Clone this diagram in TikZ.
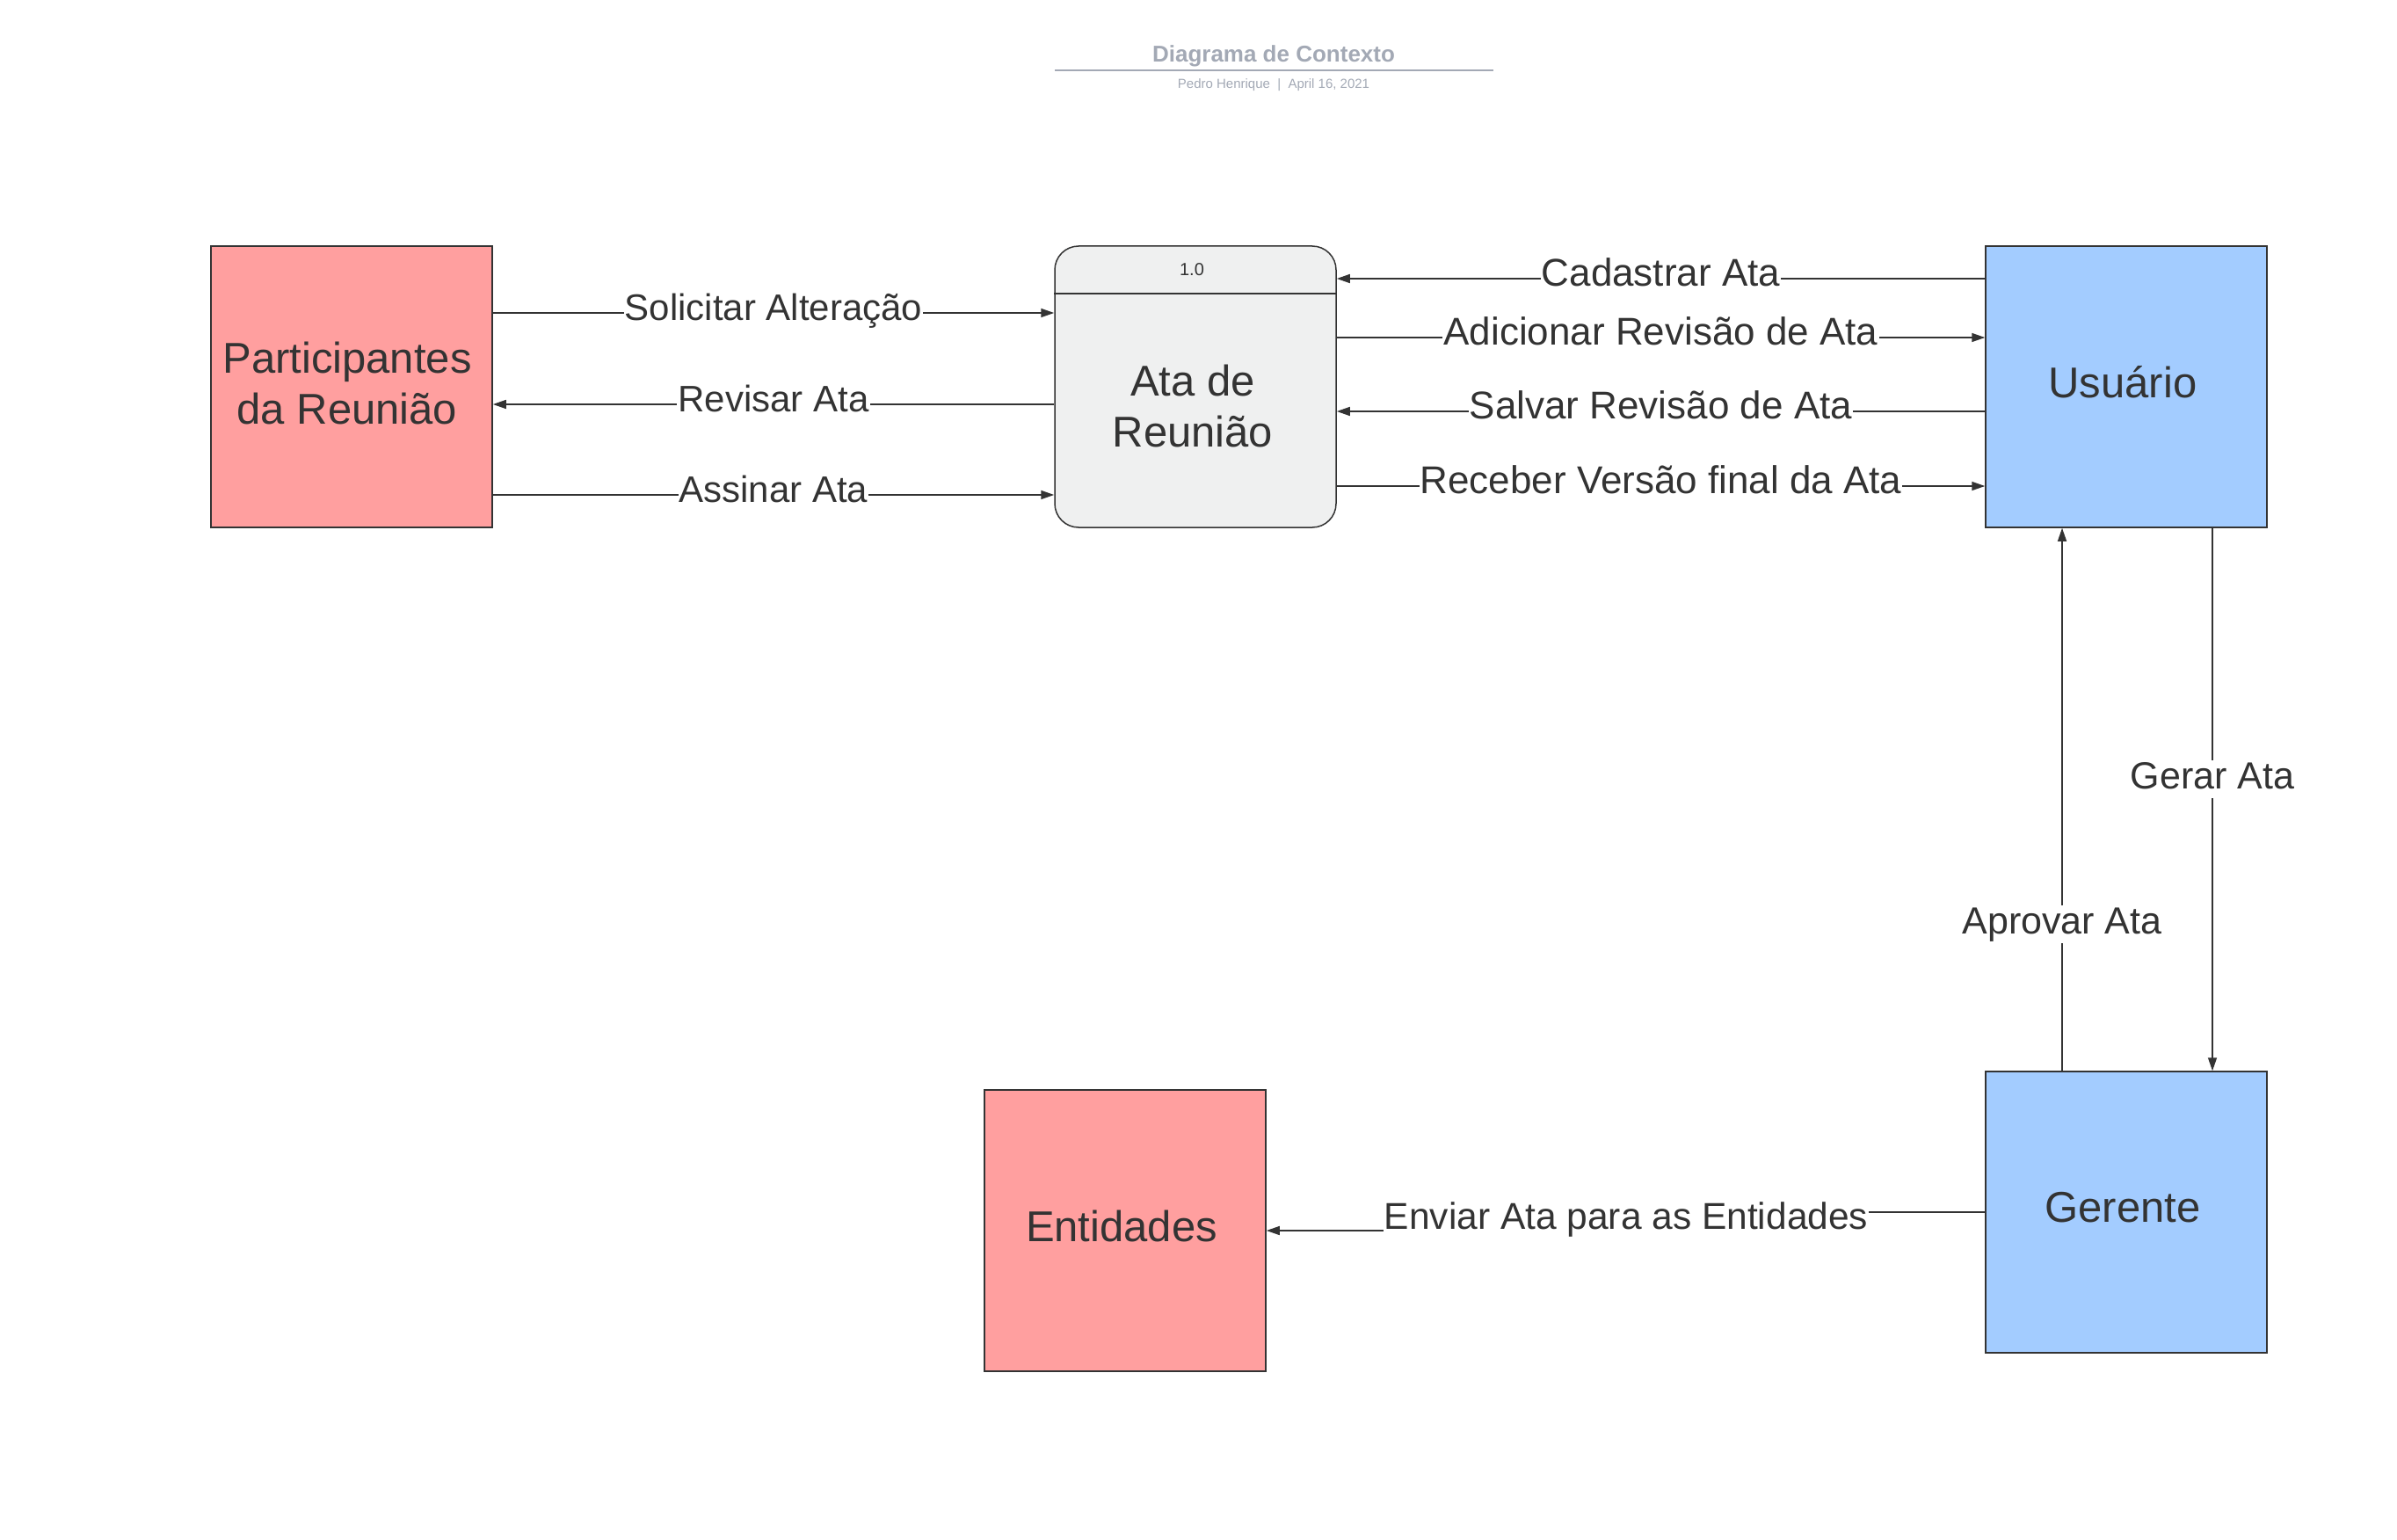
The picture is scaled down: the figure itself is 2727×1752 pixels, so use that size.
\documentclass[tikz,border=0pt]{standalone}
\usepackage{fontspec}
\setmainfont{Liberation Sans}
\usetikzlibrary{arrows.meta,calc}
\definecolor{ink}{HTML}{333333}
\definecolor{redfill}{HTML}{FF9F9F}
\definecolor{bluefill}{HTML}{A3CCFF}
\definecolor{procfill}{HTML}{EFF0F0}
\definecolor{titlegray}{HTML}{A3A9B5}
\begin{document}
\begin{tikzpicture}[x=1pt,y=-1pt,
  entity/.style={draw=ink, line width=1.5pt, minimum width=320pt, minimum height=320pt,
    inner sep=0pt},
  bigtext/.style={text=ink, align=center, inner sep=0pt, font=\fontsize{49}{58}\selectfont},
  flow/.style={draw=ink, line width=1.5pt, -{Triangle[length=15pt,width=10pt]}},
  lbl/.style={fill=white, text=ink, inner sep=1pt, text height=32pt, text depth=9pt,
    font=\fontsize{43}{50}\selectfont},
  lblL/.style={lbl, font=\fontsize{42}{50}\selectfont},
  lblR/.style={lbl, font=\fontsize{44}{50}\selectfont}
]
\useasboundingbox (0,0) rectangle (2727,1752);

% title
\node[font=\bfseries\fontsize{26}{30}\selectfont, text=titlegray] (title) at (1449,64) {Diagrama de Contexto};
\coordinate (tl) at (1200,80);
\coordinate (tr) at (1699,80);
\draw[titlegray, line width=2pt] (tl) -- (tr);
\node[font=\fontsize{15}{18}\selectfont, text=titlegray] (subtitle) at (1449,97) {Pedro Henrique~~|~~April 16, 2021};

% entities
\node[entity, fill=redfill] (part) at (400,440) {};
\node[bigtext] (parttext) at (395,436) {Participantes\\da Reunião};
\node[entity, fill=bluefill] (usu) at (2419,440) {};
\node[bigtext] (usutext) at (2415,435) {Usuário};
\node[entity, fill=bluefill] (ger) at (2419,1379) {};
\node[bigtext] (gertext) at (2415,1374) {Gerente};
\node[entity, fill=redfill] (ent) at (1280,1400) {};
\node[bigtext] (enttext) at (1276,1395) {Entidades};

% process
\node[draw=ink, line width=1.5pt, fill=procfill, rounded corners=27pt, minimum width=320pt,
  minimum height=320pt, inner sep=0pt] (ata) at (1360,440) {};
\coordinate (hl) at ($(ata.north west)+(0,55)$);
\coordinate (hr) at ($(ata.north east)+(0,55)$);
\draw[ink, line width=1.5pt] (hl) -- (hr);
\node[text=ink, font=\fontsize{20}{24}\selectfont] (atanum) at (1356,307) {1.0};
\node[bigtext] (atatitle) at (1357,462) {Ata de\\Reunião};

% left flows
\coordinate (y1) at (0,356);
\coordinate (y2) at (0,460);
\coordinate (y3) at (0,563);
\draw[flow] (part.east |- y1) -- (ata.west |- y1) node[lblL, midway, yshift=3pt] {Solicitar Alteração};
\draw[flow] (ata.west |- y2) -- (part.east |- y2) node[lblL, midway, yshift=3pt] {Revisar Ata};
\draw[flow] (part.east |- y3) -- (ata.west |- y3) node[lblL, midway, yshift=3pt] {Assinar Ata};

% right flows
\coordinate (z1) at (0,317);
\coordinate (z2) at (0,384);
\coordinate (z3) at (0,468);
\coordinate (z4) at (0,553);
\draw[flow] (usu.west |- z1) -- (ata.east |- z1) node[lblR, midway, yshift=3pt] {Cadastrar Ata};
\draw[flow] (ata.east |- z2) -- (usu.west |- z2) node[lblR, midway, yshift=3pt] {Adicionar Revisão de Ata};
\draw[flow] (usu.west |- z3) -- (ata.east |- z3) node[lblR, midway, yshift=3pt] {Salvar Revisão de Ata};
\draw[flow] (ata.east |- z4) -- (usu.west |- z4) node[lblR, midway, yshift=3pt] {Receber Versão final da Ata};

% vertical flows
\coordinate (xa) at (2346,0);
\coordinate (xg) at (2517,0);
\coordinate (la) at (2346,1051);
\coordinate (lg) at (2517,886);
\draw[flow] (ger.north -| xa) -- (usu.south -| xa);
\node[lbl] (aprovar) at (la) {Aprovar Ata};
\draw[flow] (usu.south -| xg) -- (ger.north -| xg);
\node[lbl] (gerar) at (lg) {Gerar Ata};

% enviar
\coordinate (e1) at (1850,1379);
\coordinate (e2) at (1850,1400);
\draw[flow] (ger.west) -- (e1) -- (e2) -- (ent.east);
\node[lbl, font=\fontsize{42.5}{50}\selectfont] (enviar) at (1850,1387) {Enviar Ata para as Entidades};
\end{tikzpicture}
\end{document}
